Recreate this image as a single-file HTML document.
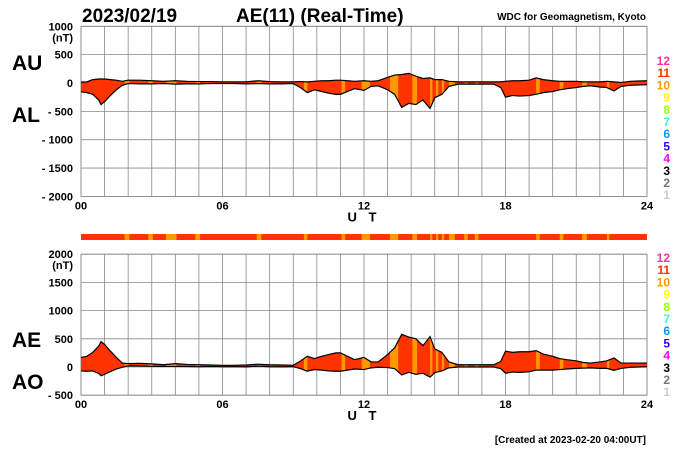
<!DOCTYPE html>
<html><head><meta charset="utf-8"><style>
html,body{margin:0;padding:0;background:#fff;width:700px;height:450px;overflow:hidden}
svg{display:block;font-family:"Liberation Sans",Arial,sans-serif}
</style></head><body>
<svg id="chart" width="700" height="450" viewBox="0 0 700 450">
<text x="82" y="22" font-size="19" font-weight="bold">2023/02/19</text>
<text x="236" y="22" font-size="19" font-weight="bold">AE(11) (Real-Time)</text>
<text x="646" y="20" font-size="10" font-weight="bold" text-anchor="end">WDC for Geomagnetism, Kyoto</text>
<text x="12" y="70" font-size="21" font-weight="bold">AU</text>
<text x="12" y="122" font-size="21" font-weight="bold">AL</text>
<text x="12" y="347" font-size="21" font-weight="bold">AE</text>
<text x="12" y="389" font-size="21" font-weight="bold">AO</text>
<text x="646" y="443" font-size="10" font-weight="bold" text-anchor="end">[Created at 2023-02-20 04:00UT]</text>
<g id="g"></g>
</svg>
<script>
const hours=[0,0.25,0.5,0.75,0.85,1,1.25,1.5,1.75,2,2.5,3,3.5,4,4.5,5,5.5,6,6.5,7,7.5,8,8.5,9,9.3,9.6,9.9,10.2,10.5,10.8,11,11.3,11.6,12,12.3,12.6,13,13.3,13.6,13.9,14.2,14.5,14.8,15,15.3,15.6,16,16.5,17,17.5,17.8,18,18.3,18.6,19,19.3,19.6,20,20.3,20.6,21,21.3,21.6,22,22.3,22.6,22.9,23.3,24];
const au=[15,20,60,70,70,70,60,50,30,50,50,40,30,40,30,25,25,20,20,20,40,25,20,20,25,20,30,40,40,50,50,40,30,40,30,40,100,140,150,170,120,80,90,60,60,30,20,20,20,20,20,30,40,40,50,90,60,40,30,30,30,20,20,20,30,20,10,30,40];
const al=[-155,-170,-200,-300,-380,-330,-220,-120,-40,-10,-15,-15,-10,-20,-15,-15,-10,-10,-10,-15,-10,-15,-15,-10,-80,-170,-120,-150,-180,-200,-200,-150,-100,-130,-60,-50,-120,-200,-430,-360,-380,-300,-450,-260,-200,-60,-20,-20,-20,-20,-80,-250,-220,-230,-220,-200,-170,-150,-120,-100,-80,-60,-50,-70,-80,-140,-60,-40,-30];
const stripeStart=[1.85,2.85,3.6,4.85,7.45,9.45,11.05,11.9,13.1,14.05,14.8,15.05,15.3,15.6,16.25,16.7,19.3,20.3,21.25,22.3];
const stripeEnd=[2.05,3.05,4.05,5.05,7.65,9.6,11.2,12.25,13.45,14.25,14.9,15.15,15.4,15.85,16.4,16.85,19.45,20.45,21.45,22.4];
const topTicks=[1000,500,0,-500,-1000,-1500,-2000];
const topTickLabels=["1000","500","0","- 500","- 1000","- 1500","- 2000"];
const botTicks=[2000,1500,1000,500,0,-500];
const botTickLabels=["2000","1500","1000","500","0","- 500"];
const xTicks=[0,6,12,18,24];
const xTickLabels=["00","06","12","18","24"];
const legendNums=["12","11","10","9","8","7","6","5","4","3","2","1"];
const legendColors=["#ff3399","#ff3300","#ff9900","#ffff00","#99ff00","#33ffcc","#0099ff","#3300ff","#ff00ff","#000000","#777777","#cccccc"];

const NS="http://www.w3.org/2000/svg";
const G=document.getElementById('g');
function mk(t,a,p){const e=document.createElementNS(NS,t);for(const k in a)e.setAttribute(k,a[k]);(p||G).appendChild(e);return e;}
const X0=81,X1=647;
const xs=h=>X0+(X1-X0)*h/24;
const yTop=v=>83-v*0.0567;
const yBot=v=>367-v*0.0564;
const ae=au.map((u,i)=>u-al[i]);
const ao=au.map((u,i)=>(u+al[i])/2);

function plot(id,ys,ticks,labels,upper,lower,y0v,y1v,legendY){
  const yt=ys(y0v),yb=ys(y1v);
  const grid=mk('g',{});
  
  
  for(let h=0;h<=24;h++){mk('line',{x1:xs(h),x2:xs(h),y1:yt,y2:yb,stroke:'#888','stroke-width':0.8},grid);}
  ticks.forEach((t,i)=>{
    mk('line',{x1:X0,x2:X1,y1:ys(t),y2:ys(t),stroke:'#888','stroke-width':0.8},grid);
    const tx=mk('text',{x:73,y:ys(t)+4,'font-size':11,'font-weight':'bold','text-anchor':'end'});
    tx.textContent=labels[i];
    
    
  });
  const nt=mk('text',{x:73,y:ys(ticks[0])+15,'font-size':11,'font-weight':'bold','text-anchor':'end'});
  nt.textContent='(nT)';
  
  
  mk('rect',{x:X0,y:yt,width:X1-X0,height:yb-yt,fill:'none',stroke:'#888','stroke-width':0.8},grid);
  xTicks.forEach((t,i)=>{
    const tx=mk('text',{x:xs(t),y:yb+13,'font-size':11,'font-weight':'bold','text-anchor':'middle'});
    tx.textContent=xTickLabels[i];
    
    
  });
  const ut=mk('text',{x:xs(12),y:yb+25,'font-size':13,'font-weight':'bold','text-anchor':'middle','letter-spacing':'4'});
  ut.textContent='U T';
  
  
  // area
  let d='M'+hours.map((h,i)=>xs(h)+','+ys(upper[i])).join('L');
  for(let i=hours.length-1;i>=0;i--)d+='L'+xs(hours[i])+','+ys(lower[i]);
  d+='Z';
  const cp=mk('clipPath',{id:id+'-clip'});mk('path',{d:d},cp);
  const area=mk('g',{'clip-path':'url(#'+id+'-clip)'});
  
  
  mk('rect',{x:X0,y:yt,width:X1-X0,height:yb-yt,fill:'#ff3300'},area);
  stripeStart.forEach((s,i)=>{
    const r=mk('rect',{x:xs(s),y:yt,width:xs(stripeEnd[i])-xs(s),height:yb-yt,fill:'#ff9900'},area);
    
    
  });
  const l1=mk('path',{d:'M'+hours.map((h,i)=>xs(h)+','+ys(upper[i])).join('L'),fill:'none',stroke:'#000','stroke-width':1.2});
  
  
  const l2=mk('path',{d:'M'+hours.map((h,i)=>xs(h)+','+ys(lower[i])).join('L'),fill:'none',stroke:'#000','stroke-width':1.2});
  
  
  legendNums.forEach((n,i)=>{
    const tx=mk('text',{x:670,y:legendY+i*12.2,'font-size':12,'font-weight':'bold','text-anchor':'end',fill:legendColors[i]});
    tx.textContent=n;
    
    
  });
}
plot('au-al-plot',yTop,topTicks,topTickLabels,au,al,1000,-2000,65);
plot('ae-ao-plot',yBot,botTicks,botTickLabels,ae,ao,2000,-500,262);
// station count colour bar
const cb=mk('g',{});


mk('rect',{x:X0,y:234,width:X1-X0,height:6,fill:'#ff3300'},cb);
stripeStart.forEach((s,i)=>{
  const r=mk('rect',{x:xs(s),y:234,width:xs(stripeEnd[i])-xs(s),height:6,fill:'#ff9900'},cb);
  
  
});
</script>
</body></html>
